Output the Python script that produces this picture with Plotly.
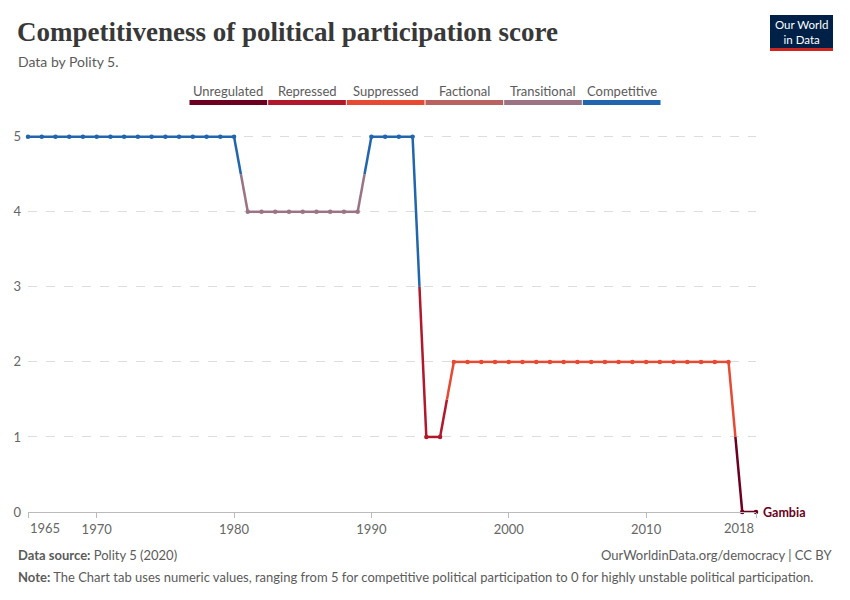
import plotly.graph_objects as go

# ---------------- data ----------------
years = list(range(1965, 2019))
values = ([5] * 16      # 1965-1980
          + [4] * 9     # 1981-1989
          + [5] * 4     # 1990-1993
          + [1] * 2     # 1994-1995
          + [2] * 21    # 1996-2016
          + [0] * 2)    # 2017-2018
country = "Gambia"

categories = ["Unregulated", "Repressed", "Suppressed", "Factional", "Transitional", "Competitive"]
cat_values = [0, 1, 2, 3, 4, 5]
cat_colors = ["#6b0020", "#b1182b", "#e64a33", "#b96262", "#9a7384", "#2166ac"]

x_tickvals = [1965, 1970, 1980, 1990, 2000, 2010, 2018]
y_tickvals = [0, 1, 2, 3, 4, 5]

# ---------------- layout geometry ----------------
W, H = 850, 600
L, R = 28, 756          # plot area x in px
T, B = 133, 512         # plot area y in px
def xp(px): return (px - L) / (R - L)
def yp(py): return (B - py) / (B - T)

color_of = dict(zip(cat_values, cat_colors))

# ---------------- build segments ----------------
seg_x = {v: [] for v in cat_values}
seg_y = {v: [] for v in cat_values}
for i in range(len(years) - 1):
    x0, y0, x1, y1 = years[i], values[i], years[i + 1], values[i + 1]
    if y0 == y1:
        seg_x[y0] += [x0, x1, None]
        seg_y[y0] += [y0, y1, None]
    else:
        xm, ym = (x0 + x1) / 2, (y0 + y1) / 2
        seg_x[y0] += [x0, xm, None]
        seg_y[y0] += [y0, ym, None]
        seg_x[y1] += [xm, x1, None]
        seg_y[y1] += [ym, y1, None]

fig = go.Figure()
for v in cat_values:
    if seg_x[v]:
        fig.add_trace(go.Scatter(x=seg_x[v], y=seg_y[v], mode="lines",
                                 line=dict(color=color_of[v], width=2.5),
                                 hoverinfo="skip", showlegend=False, cliponaxis=False))
for v in cat_values:
    px_ = [x for x, y in zip(years, values) if y == v]
    py_ = [y for y in values if y == v]
    if px_:
        fig.add_trace(go.Scatter(x=px_, y=py_, mode="markers",
                                 marker=dict(color=color_of[v], size=4.5),
                                 showlegend=False, name=categories[v], cliponaxis=False))

annotations = []
shapes = []

# title / subtitle
annotations.append(dict(text="<b>Competitiveness of political participation score</b>",
                        xref="paper", yref="paper", x=xp(15), y=yp(32), xanchor="left", yanchor="middle",
                        showarrow=False, font=dict(family="Liberation Serif, DejaVu Serif, serif", size=27, color="#383838")))
annotations.append(dict(text="Data by Polity 5.",
                        xref="paper", yref="paper", x=xp(16), y=yp(61), xanchor="left", yanchor="middle",
                        showarrow=False, font=dict(family="Lato", size=14, color="#5b5b5b")))

# logo
shapes.append(dict(type="rect", xref="paper", yref="paper", x0=xp(770), x1=xp(833), y0=yp(48), y1=yp(15),
                   fillcolor="#002147", line=dict(width=0)))
shapes.append(dict(type="rect", xref="paper", yref="paper", x0=xp(770), x1=xp(833), y0=yp(51), y1=yp(48),
                   fillcolor="#ce261e", line=dict(width=0)))
annotations.append(dict(text="Our World<br>in Data", xref="paper", yref="paper", x=xp(801.5), y=yp(32),
                        xanchor="center", yanchor="middle", showarrow=False,
                        font=dict(family="Lato", size=11.5, color="white")))

# legend bar
lx0, lx1 = 189, 661
seg_w = (lx1 - lx0) / len(categories)
for i, (name, col) in enumerate(zip(categories, cat_colors)):
    a = lx0 + i * seg_w
    shapes.append(dict(type="rect", xref="paper", yref="paper", x0=xp(a + 0.5), x1=xp(a + seg_w - 0.5),
                       y0=yp(105), y1=yp(100), fillcolor=col, line=dict(width=0)))
    annotations.append(dict(text=name, xref="paper", yref="paper", x=xp(a + seg_w / 2), y=yp(91),
                            xanchor="center", yanchor="middle", showarrow=False,
                            font=dict(family="Lato", size=13, color="#5b5b5b")))

# country label
annotations.append(dict(text="<b>" + country + "</b>", x=years[-1], y=values[-1], xanchor="left", yanchor="middle",
                        xshift=5, showarrow=False, font=dict(family="Lato", size=12.5, color=color_of[values[-1]])))

# first and last x tick labels shifted inward
annotations.append(dict(text=str(x_tickvals[0]), x=x_tickvals[0], y=0, yref="paper", xanchor="left", yanchor="top",
                        yshift=-6, xshift=0, showarrow=False, font=dict(family="Lato", size=13, color="#666666")))
annotations.append(dict(text=str(x_tickvals[-1]), x=x_tickvals[-1], y=0, yref="paper", xanchor="right", yanchor="top",
                        yshift=-6, xshift=0, showarrow=False, font=dict(family="Lato", size=13, color="#666666")))

# footer
annotations.append(dict(text="<b>Data source:</b> Polity 5 (2020)", xref="paper", yref="paper", x=xp(16), y=yp(555),
                        xanchor="left", yanchor="middle", showarrow=False,
                        font=dict(family="Lato", size=13, color="#5b5b5b")))
annotations.append(dict(text="OurWorldinData.org/democracy | CC BY", xref="paper", yref="paper", x=xp(834), y=yp(555),
                        xanchor="right", yanchor="middle", showarrow=False,
                        font=dict(family="Lato", size=13, color="#5b5b5b")))
annotations.append(dict(text="<b>Note:</b> The Chart tab uses numeric values, ranging from 5 for competitive political participation to 0 for highly unstable political participation.",
                        xref="paper", yref="paper", x=xp(16), y=yp(577),
                        xanchor="left", yanchor="middle", showarrow=False,
                        font=dict(family="Lato", size=13, color="#5b5b5b")))

ticktext = [""] + [str(t) for t in x_tickvals[1:-1]] + [""]

fig.update_layout(
    width=W, height=H,
    margin=dict(l=L, r=W - R, t=T, b=H - B, pad=0),
    paper_bgcolor="white", plot_bgcolor="white",
    font=dict(family="Lato", color="#666666"),
    showlegend=False,
    annotations=annotations, shapes=shapes,
    xaxis=dict(range=[1965, 2018], tickvals=x_tickvals, ticktext=ticktext,
               showgrid=False, zeroline=False, showline=True, linecolor="#bbbbbb", linewidth=1,
               ticks="outside", ticklen=5, tickcolor="#bbbbbb",
               tickfont=dict(family="Lato", size=13, color="#666666")),
    yaxis=dict(range=[0, 5.05], tickvals=y_tickvals, showgrid=True, gridcolor="#dddddd", griddash="dash",
               zeroline=False, showline=False, ticks="", ticklabelstandoff=6,
               tickfont=dict(family="Lato", size=13, color="#666666")),
)

fig.write_html("out.html", config={"displayModeBar": False},
               post_script="document.body.style.margin='0';document.body.style.padding='0';")
